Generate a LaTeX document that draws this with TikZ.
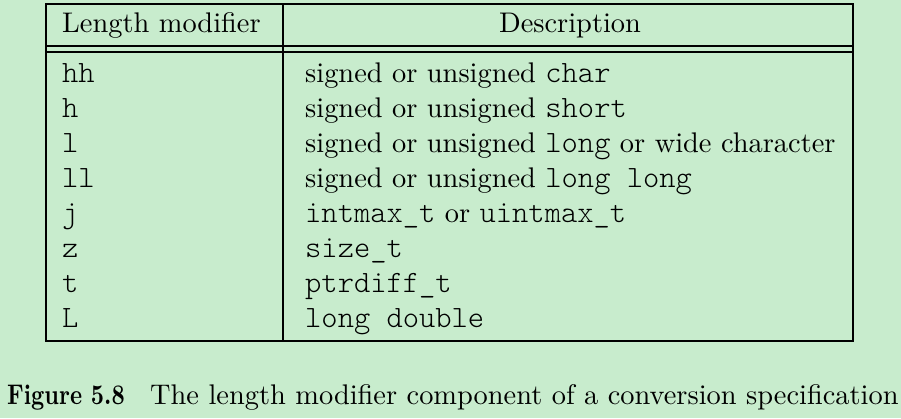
\documentclass[tikz,border=0pt]{standalone}
\usepackage{fontspec}
\usepackage{graphicx}
\setmainfont{lmroman10-regular.otf}[BoldFont=lmroman10-bold.otf]
\setmonofont{lmmonolt10-regular.otf}
\definecolor{bggreen}{RGB}{200,236,205}
\newcommand\myrm{\fontsize{28.4}{34}\selectfont\rmfamily}
\newcommand\mytt{\fontsize{31}{36}\selectfont\ttfamily}
\tikzset{
  rule/.style={draw=black, line width=1.1pt},
  cell/.style={anchor=base west, inner sep=0pt, font=\myrm},
  headc/.style={anchor=base, inner sep=0pt, font=\myrm},
}
\begin{document}
\begin{tikzpicture}[x=1pt,y=-1pt]
\fill[bggreen] (0,0) rectangle (901,418);
\useasboundingbox (0,0) rectangle (901,418);
% table rules
\draw[rule] (46,4) rectangle (853,341);
\draw[rule] (46,46) -- (853,46);
\draw[rule] (46,52) -- (853,52);
\draw[rule, line width=1.3pt] (283,4) -- (283,341);
% header
\node[cell] (hmod) at (62,32) {Length modifier};
\node[headc] (hdesc) at (570,32) {Description};
% rows
\node[cell] (m1) at (62,82)  {\mytt hh};
\node[cell] (d1) at (305,82) {signed or unsigned {\mytt char}};
\node[cell] (m2) at (62,117) {\mytt h};
\node[cell] (d2) at (305,117) {signed or unsigned {\mytt short}};
\node[cell] (m3) at (62,152) {\mytt l};
\node[cell] (d3) at (305,152) {signed or unsigned {\mytt long} or wide character};
\node[cell] (m4) at (62,187) {\mytt ll};
\node[cell] (d4) at (305,187) {signed or unsigned {\mytt long long}};
\node[cell] (m5) at (62,222) {\mytt j};
\node[cell] (d5) at (305,222) {{\mytt intmax\_t} or {\mytt uintmax\_t}};
\node[cell] (m6) at (62,257) {\mytt z};
\node[cell] (d6) at (305,257) {\mytt size\_t};
\node[cell] (m7) at (62,292) {\mytt t};
\node[cell] (d7) at (305,292) {\mytt ptrdiff\_t};
\node[cell] (m8) at (62,327) {\mytt L};
\node[cell] (d8) at (305,327) {\mytt long double};
% caption
\node[cell] (figlabel) at (7,404) {\scalebox{0.81}[1]{\bfseries Figure 5.8}};
\node[cell] (captext) at (150,404) {The length modifier component of a conversion specification};
\end{tikzpicture}
\end{document}
